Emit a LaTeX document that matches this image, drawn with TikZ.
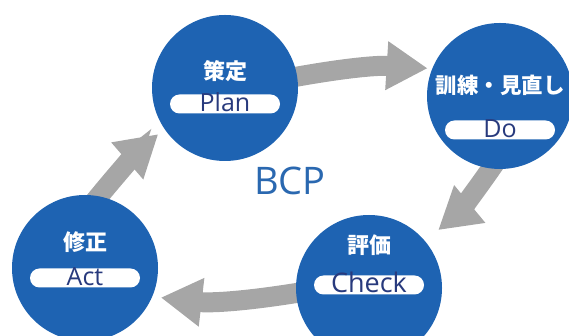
\documentclass[tikz,border=0pt]{standalone}
\usepackage{fontspec}
\setmainfont{Open Sans}
\newfontfamily\jpfont{Noto Sans CJK JP}
\usetikzlibrary{
    arrows.meta,
    backgrounds
}
\definecolor{bcpblue}{RGB}{30,99,178}
\definecolor{bcptext}{RGB}{42,104,176}
\definecolor{labelnavy}{RGB}{40,58,125}
\definecolor{arrowgray}{RGB}{166,166,166}
\tikzset{
  phase/.style={
    circle,
    fill=bcpblue,
    minimum size=146pt,
    inner sep=0pt
  },
  jplabel/.style={
    text=white,
    font=\jpfont\bfseries\fontsize{22}{22}\selectfont,
    inner sep=0pt
  },
  pill/.style={
    fill=white,
    rounded corners=9.5pt,
    minimum width=110pt,
    minimum height=19pt,
    inner xsep=0pt,
    inner ysep=0pt,
    text height=17.5pt,
    text depth=1.5pt,
    text=labelnavy,
    font=\fontsize{25}{25}\selectfont
  },
  cyclearrow/.style={
    draw=arrowgray,
    line width=20pt,
    -{Triangle[width=46pt,length=41pt]},
    shorten <=-10pt
  }
}

\begin{document}
\begin{tikzpicture}[x=1pt,y=1pt]
    \useasboundingbox (0,0) rectangle (569,336);

    % 円
    \node[phase] (plan)  at (225,248) {};
    \node[phase] (do)    at (500,240) {};
    \node[phase] (check) at (369,48)  {};
    \node[phase] (act)   at (85,68)   {};

    % ラベル
    \node[jplabel] (plan-jp) at ([yshift=17pt]plan.center) {策定};
    \node[pill] (plan-en) at ([yshift=-16pt]plan.center) {Plan};
    \node[jplabel,font=\jpfont\bfseries\fontsize{21.5}{21.5}\selectfont] (do-jp) at ([yshift=11pt]do.center) {訓練・見直し};
    \node[pill] (do-en) at ([yshift=-34pt]do.center) {Do};
    \node[jplabel] (check-jp) at ([yshift=43pt]check.center) {評価};
    \node[pill,font=\fontsize{27}{27}\selectfont] (check-en) at ([yshift=3pt]check.center) {Check};
    \node[jplabel] (act-jp) at ([yshift=26pt]act.center) {修正};
    \node[pill] (act-en) at ([yshift=-10pt]act.center) {Act};

    \node[text=bcptext,font=\fontsize{38}{38}\selectfont] (bcp) at (290,155) {BCP};

    % 矢印
    \begin{scope}[on background layer]
        \draw[cyclearrow,shorten >=4.5pt] (plan.9) to[bend left=7] (do.158);
        \draw[cyclearrow,shorten >=17pt] (do.263) to[bend left=8] (check.40);
        \draw[cyclearrow,shorten >=8.5pt] (check.184) to[bend left=8] (act.337);
        \draw[cyclearrow,shorten >=8pt] (act.79) to[bend left=5] (plan.214);
    \end{scope}
\end{tikzpicture}
\end{document}
